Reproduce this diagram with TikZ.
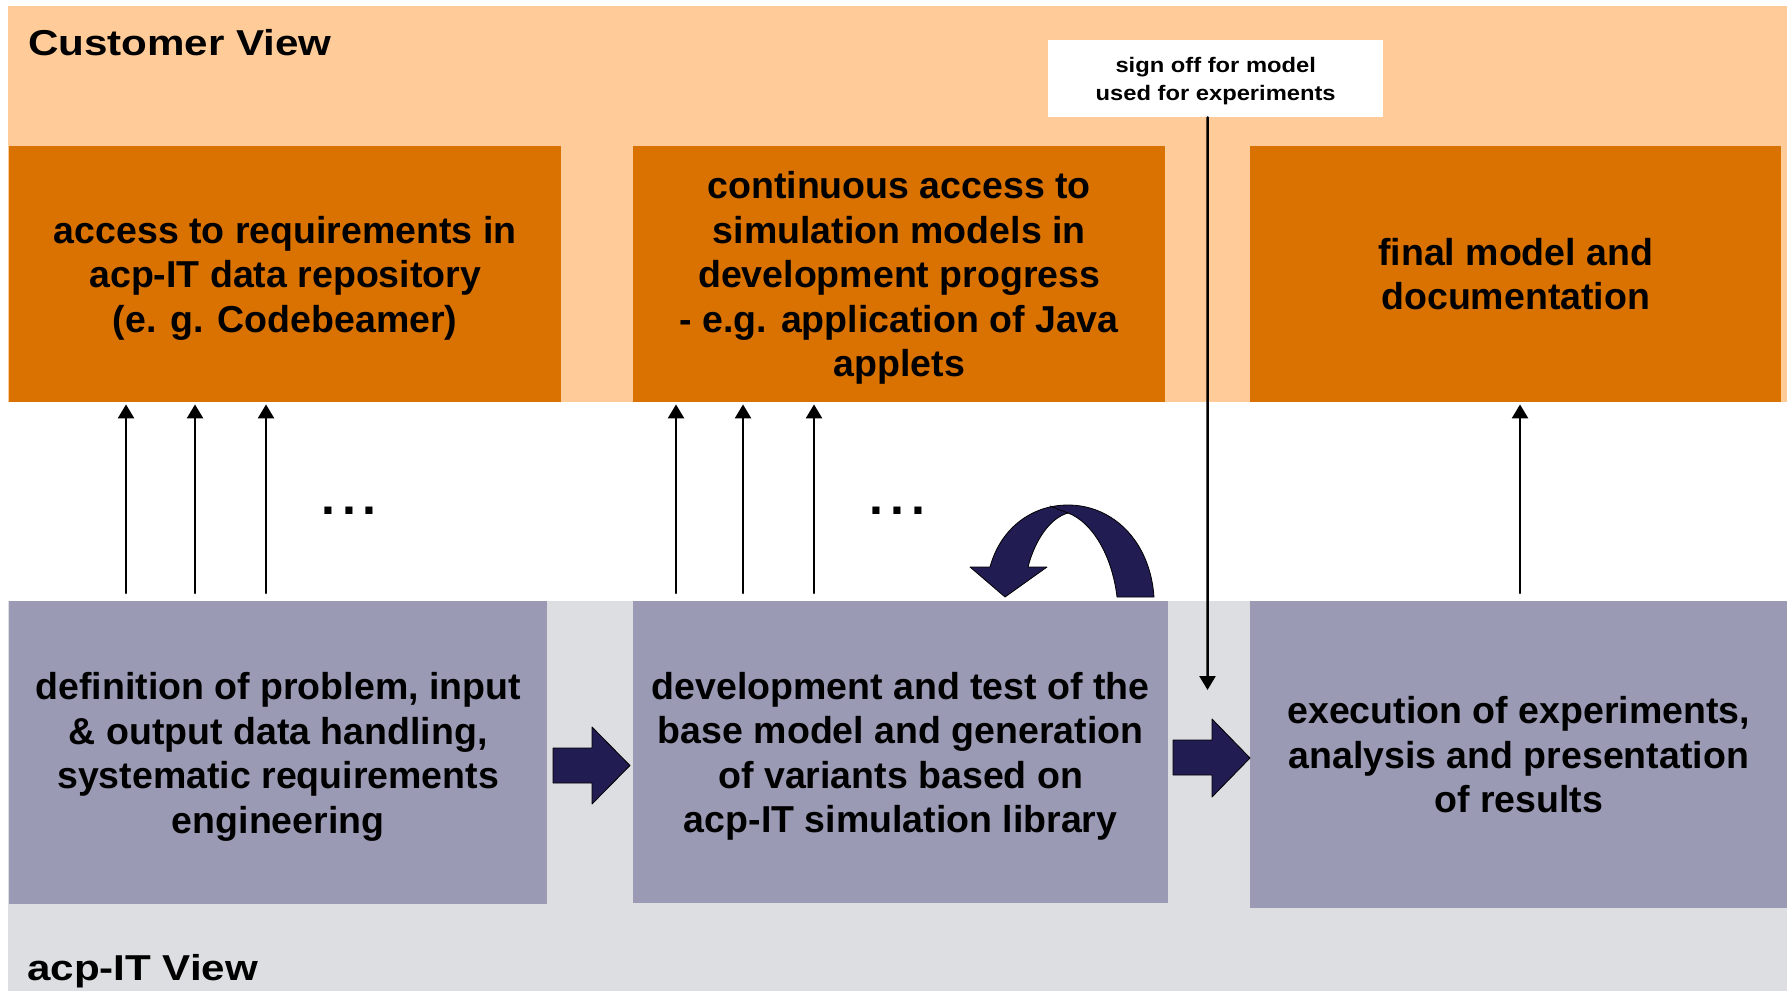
\documentclass[tikz,border=0pt]{standalone}
\usepackage{fontspec}
\setmainfont{Liberation Sans}
\newfontfamily\titlefont[FakeStretch=1.17]{Liberation Sans}
\newfontfamily\signfont[FakeStretch=1.13]{Liberation Sans}
\usetikzlibrary{arrows.meta}
\definecolor{ffcczz}{rgb}{1,0.8,0.6}
\definecolor{ddwwqq}{rgb}{0.851,0.447,0}
\definecolor{zzzzbb}{rgb}{0.608,0.604,0.706}
\definecolor{ddddee}{rgb}{0.867,0.871,0.882}
\definecolor{ccqqww}{rgb}{0.129,0.114,0.322}
\tikzset{
  obox/.style={fill=ddwwqq,inner sep=0pt,align=center,anchor=north west,
    font=\fontsize{37.5}{44.5}\selectfont\bfseries},
  pbox/.style={fill=zzzzbb,inner sep=0pt,align=center,anchor=north west,
    font=\fontsize{37.5}{44.5}\selectfont\bfseries},
  viewtitle/.style={inner sep=0pt,anchor=base west,font=\titlefont\fontsize{36}{42}\selectfont\bfseries},
  signbox/.style={fill=white,inner sep=0pt,align=center,anchor=north west,
    font=\signfont\fontsize{21}{27.7}\selectfont\bfseries},
  moredots/.style={inner sep=0pt,font=\fontsize{50}{50}\selectfont\bfseries},
  arrline/.style={->,line width=2.5pt},
  bigarr/.style={fill=ccqqww,draw=black,line width=0.8pt}
}
\begin{document}
\begin{tikzpicture}[line cap=round,line join=round,>={Triangle[length=14pt,width=16pt]},x=1.0pt,y=-1.0pt]
\useasboundingbox (0,0) rectangle (1787,991);
\fill[white] (0,0) rectangle (1787,991);
\fill[ffcczz] (8,6) rectangle (1787,402);
\fill[ddddee] (8,601) rectangle (1787,991);
% customer side
\node[obox,minimum width=552,minimum height=256] (oa) at (9,146) {access to requirements in\\acp-IT data repository\\\smash{(e. g. Codebeamer)}};
\node[obox,minimum width=532,minimum height=256] (ob) at (633,146) {continuous access to\\simulation models in\\development progress\\- e.g. application of Java\\\smash{applets}};
\node[obox,minimum width=531,minimum height=256] (oc) at (1250,146) {final model and\\documentation};
% acp-IT side
\node[pbox,minimum width=538,minimum height=303] (pa) at (9,601) {definition of problem, input\\\& output data handling,\\systematic requirements\\\smash{engineering}};
\node[pbox,minimum width=535,minimum height=302] (pb) at (633,601) {development and test of the\\base model and generation\\of variants based on\\\smash{acp-IT simulation library}};
\node[pbox,minimum width=537,minimum height=307] (pc) at (1250,601) {execution of experiments,\\analysis and presentation\\of results};
\node[viewtitle] (cv) at (28,55) {Customer View};
\node[viewtitle] (av) at (27,980) {acp-IT View};
\node[signbox,minimum width=335,minimum height=77] (so) at (1048,40) {sign off for model\\\smash{used for experiments}};
\node[moredots] (da) at (349,511) {.\kern7pt.\kern7pt.};
\node[moredots] (db) at (897.5,511) {.\kern7pt.\kern7pt.};
\coordinate (soend) at (1207.5,690);
% arrows up
\foreach \dx in {117,186,257}
  \draw[arrline] ([xshift=\dx pt,yshift=8pt]pa.north west) -- ([xshift=\dx pt,yshift=-2pt]oa.south west);
\foreach \dx in {43,110,181}
  \draw[arrline] ([xshift=\dx pt,yshift=8pt]pb.north west) -- ([xshift=\dx pt,yshift=-2pt]ob.south west);
\draw[arrline] ([xshift=270pt,yshift=8pt]pc.north west) -- ([xshift=270pt,yshift=-2pt]oc.south west);
\draw[arrline] ([xshift=-8pt]so.south) -- (soend);
% block arrows
\draw[bigarr] (553,748) -- (592,748) -- (592,727) -- (630,765.5) -- (592,804) -- (592,783) -- (553,783) -- cycle;
\draw[bigarr] (1173,740) -- (1212,740) -- (1212,719) -- (1250,758) -- (1212,797) -- (1212,775) -- (1173,775) -- cycle;
% loop arrow
\draw[bigarr] (1154,597) .. controls (1150,540) and (1112,505) .. (1068,505)
  .. controls (1030,505) and (1000,530) .. (990,567) -- (970,567) -- (1005,597) -- (1047,567) -- (1028,567)
  .. controls (1035,540) and (1050,518) .. (1068,513)
  .. controls (1092,522) and (1112,555) .. (1117,597) -- cycle;
\draw[line width=0.8pt] (1050,506) -- (1068,513);
\end{tikzpicture}
\end{document}
